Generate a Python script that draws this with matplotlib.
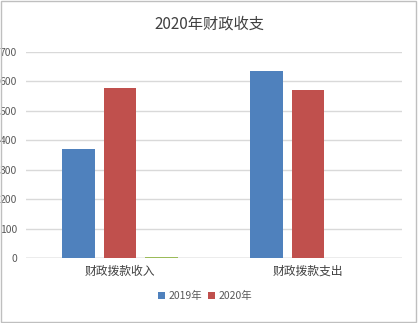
import matplotlib
matplotlib.use("Agg")
import matplotlib.pyplot as plt
import numpy as np
from matplotlib.patches import Rectangle

plt.rcParams['font.family'] = ['Noto Sans CJK SC', 'DejaVu Sans']

categories = ["财政拨款收入", "财政拨款支出"]
series_names = ["2019年", "2020年", ""]
values_2019 = [370, 635]
values_2020 = [577, 571]
values_other = [4, 0]
yticks = [0, 100, 200, 300, 400, 500, 600, 700]

colors = ["#4F81BD", "#C0504D", "#9BBB59"]

fig = plt.figure(figsize=(4.18, 3.23), dpi=100)
ax = fig.add_axes([26/418, 1-258/323, 376/418, 206/323])

x = np.arange(len(categories))
w = 0.175
step = 0.223
all_vals = [values_2019, values_2020, values_other]
for i, (vals, name, c) in enumerate(zip(all_vals, series_names, colors)):
    ax.bar(x + (i-1)*step, vals, width=w, color=c, label=name if name else None, zorder=3)

ax.set_xlim(-0.5, 1.5)
ax.set_ylim(0, 700)
ax.set_yticks(yticks)
ax.yaxis.grid(True, color="#d9d9d9", linewidth=1, zorder=0)
ax.axhline(0, color="#bfbfbf", linewidth=1, zorder=2)
for s in ax.spines.values():
    s.set_visible(False)
ax.tick_params(axis='y', length=0, labelsize=7.5, labelcolor="#595959", pad=6.5)
ax.set_xticks(x)
ax.set_xticklabels(categories, fontsize=8.5, color="#404040")
ax.tick_params(axis='x', length=0, pad=5)

fig.text(0.5, 1-24/323, "2020年财政收支", ha='center', va='center', fontsize=11, color="#404040")

handles, labels = ax.get_legend_handles_labels()
fig.legend(handles, labels, loc='center', bbox_to_anchor=(205/418, 1-296/323), ncol=2,
           frameon=False, fontsize=7.5, handlelength=0.7, handleheight=0.7,
           handletextpad=0.3, columnspacing=0.6, labelcolor="#595959")

border = Rectangle((0.002, 0.002), 0.994, 0.994, transform=fig.transFigure, fill=False,
                   edgecolor="#bfbfbf", linewidth=1)
fig.patches.append(border)

fig.savefig("out.png", dpi=100)
